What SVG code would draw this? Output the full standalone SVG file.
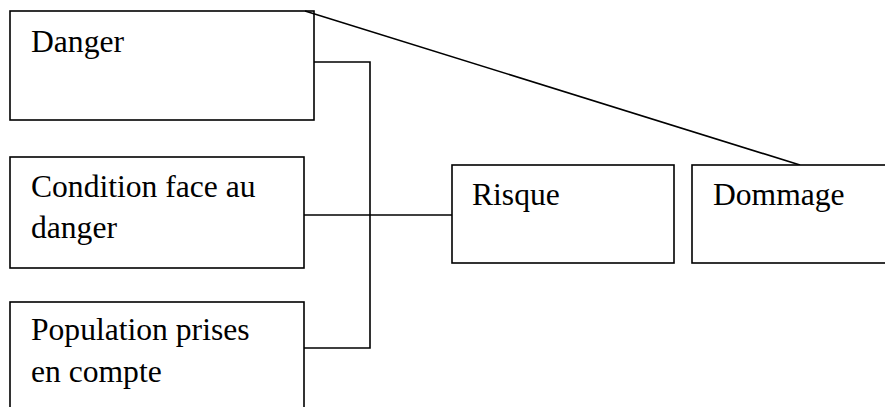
<svg xmlns="http://www.w3.org/2000/svg" width="885" height="407" viewBox="0 0 885 407">
<style>
.box{fill:#fff;stroke:#000;stroke-width:1.6}
.t{font-family:"Liberation Serif","Times New Roman",serif;font-size:31.6px;fill:#000}
.c{fill:none;stroke:#000;stroke-width:1.6}
</style>
<rect width="885" height="407" fill="#fff"/>
<g id="connectors">
<polyline class="c" points="314,62 370,62 370,348 304,348"/>
<line class="c" x1="304" y1="215" x2="452" y2="215"/>
<line class="c" x1="305" y1="11" x2="800" y2="165"/>
</g>
<g id="danger">
<rect class="box" x="10" y="11" width="304" height="109" style="fill:none"/>
<text class="t" x="31" y="52">Danger</text>
</g>
<g id="condition">
<rect class="box" x="10" y="157" width="294" height="111"/>
<text class="t" x="31" y="197">Condition face au</text>
<text class="t" x="31" y="238">danger</text>
</g>
<g id="population">
<rect class="box" x="10" y="302" width="294" height="120"/>
<text class="t" x="31" y="340">Population prises</text>
<text class="t" x="31" y="382">en compte</text>
</g>
<g id="risque">
<rect class="box" x="452" y="165" width="222" height="98"/>
<text class="t" x="472" y="205">Risque</text>
</g>
<g id="dommage">
<rect class="box" x="692" y="165" width="210" height="98"/>
<text class="t" x="713" y="205">Dommage</text>
</g>
</svg>
